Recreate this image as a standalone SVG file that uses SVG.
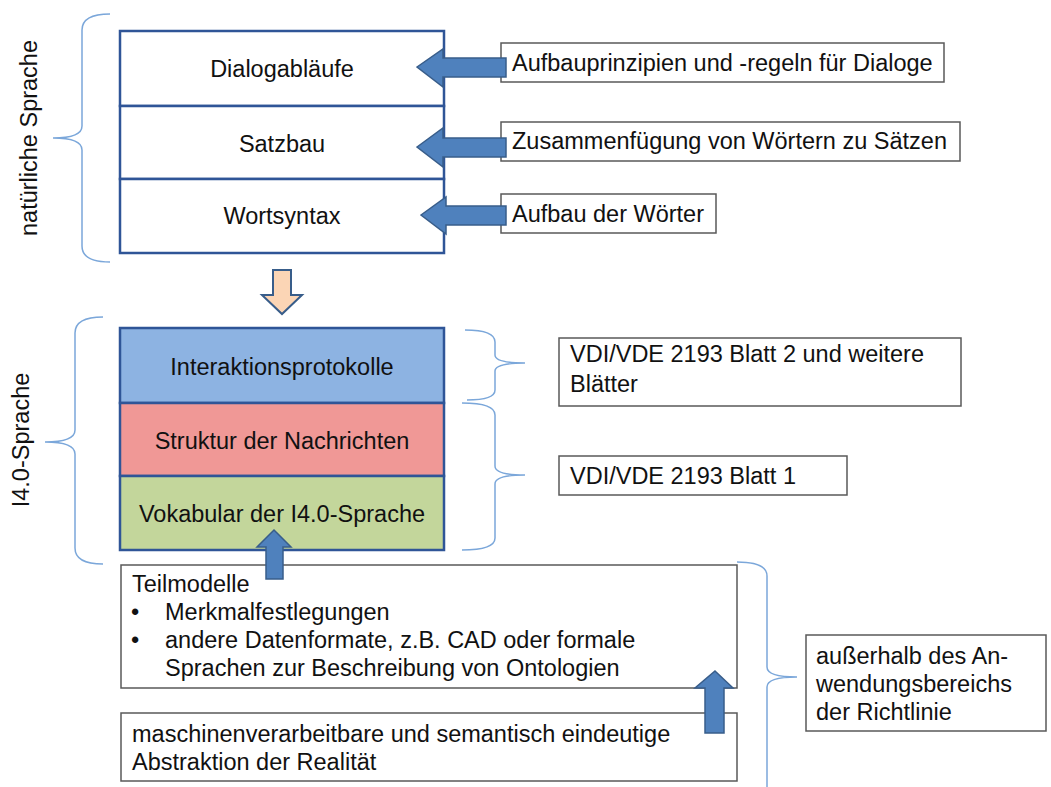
<svg xmlns="http://www.w3.org/2000/svg" width="1051" height="787" viewBox="0 0 1051 787">
<defs>
<style>
text{font-family:"Liberation Sans",Arial,sans-serif;font-size:23.5px;fill:#111}
.c{text-anchor:middle}
.layer{stroke:#2F5597;stroke-width:2.5}
.box{fill:#fff;stroke:#595959;stroke-width:1.5}
.brace{fill:none;stroke:#7BA7DA;stroke-width:1.5}
.arr{fill:#4F81BD;stroke:#385D8A;stroke-width:1.5}
.arr2{fill:#FBD5B5;stroke:#385D8A;stroke-width:2}
</style>
</defs>
<rect width="1051" height="787" fill="#fff"/>

<!-- braces -->
<g id="braces">
<path class="brace" d="M110,14 Q82,14 82,30 L82,126 Q82,138 53,138 Q82,138 82,150 L82,246 Q82,262 110,262"/>
<path class="brace" d="M103,317 Q75,317 75,333 L75,430 Q75,442 45,442 Q75,442 75,454 L75,548 Q75,564 103,564"/>
<path class="brace" d="M465,330 Q495,330 495,342 L495,355 Q495,363 525,363 Q495,363 495,371 L495,390 Q495,400 467,400"/>
<path class="brace" d="M462,403 Q495,403 495,415 L495,466 Q495,475 525,475 Q495,475 495,484 L495,538 Q495,550 462,550"/>
<path class="brace" d="M737,562 Q767,562 767,576 L767,667 Q767,677 797,677 Q767,677 767,687 L767,790"/>
</g>

<text class="c" transform="translate(37,138) rotate(-90)">natürliche Sprache</text>
<text class="c" transform="translate(29,440) rotate(-90)">I4.0-Sprache</text>

<!-- top stack -->
<g id="natural-stack">
<g id="dialogablaeufe"><rect class="layer" x="120" y="31" width="324" height="75" fill="#fff"/><text class="c" x="282" y="77">Dialogabläufe</text></g>
<g id="satzbau"><rect class="layer" x="120" y="106" width="324" height="73" fill="#fff"/><text class="c" x="282" y="152">Satzbau</text></g>
<g id="wortsyntax"><rect class="layer" x="120" y="179" width="324" height="74" fill="#fff"/><text class="c" x="282" y="224">Wortsyntax</text></g>
</g>

<!-- I4.0 stack -->
<g id="i40-stack">
<g id="interaktionsprotokolle"><rect class="layer" x="120" y="328" width="324" height="75" fill="#8DB3E2"/><text class="c" x="282" y="375">Interaktionsprotokolle</text></g>
<g id="struktur"><rect class="layer" x="120" y="403" width="324" height="73" fill="#F09896"/><text class="c" x="282" y="449">Struktur der Nachrichten</text></g>
<g id="vokabular"><rect class="layer" x="120" y="476" width="324" height="74" fill="#C3D69B"/><text class="c" x="282" y="522">Vokabular der I4.0-Sprache</text></g>
</g>

<!-- right boxes -->
<g id="aufbauprinzipien"><rect class="box" x="501" y="43" width="443" height="39"/><text x="512" y="71">Aufbauprinzipien und -regeln für Dialoge</text></g>
<g id="zusammenfuegung"><rect class="box" x="501" y="122" width="459" height="39"/><text x="512" y="149">Zusammenfügung von Wörtern zu Sätzen</text></g>
<g id="aufbau-woerter"><rect class="box" x="501" y="194" width="215" height="39"/><text x="512" y="222">Aufbau der Wörter</text></g>

<g id="vdi-blatt2"><rect class="box" x="559" y="338" width="402" height="68"/><text x="570" y="362">VDI/VDE 2193 Blatt 2 und weitere</text><text x="570" y="392">Blätter</text></g>
<g id="vdi-blatt1"><rect class="box" x="559" y="456" width="288" height="39"/><text x="570" y="484">VDI/VDE 2193 Blatt 1</text></g>

<g id="teilmodelle"><rect class="box" x="121" y="565" width="616" height="123"/>
<text x="132" y="592">Teilmodelle</text>
<text x="131" y="620">•</text><text x="165" y="620">Merkmalfestlegungen</text>
<text x="131" y="648">•</text><text x="165" y="648">andere Datenformate, z.B. CAD oder formale</text>
<text x="165" y="676">Sprachen zur Beschreibung von Ontologien</text>
</g>
<g id="abstraktion"><rect class="box" x="121" y="713" width="616" height="68"/>
<text x="132" y="742">maschinenverarbeitbare und semantisch eindeutige</text>
<text x="132" y="770">Abstraktion der Realität</text>
</g>
<g id="ausserhalb"><rect class="box" x="806" y="635" width="240" height="96"/>
<text x="816" y="664">außerhalb des An-</text>
<text x="816" y="692">wendungsbereichs</text>
<text x="816" y="720">der Richtlinie</text>
</g>

<!-- connectors -->
<g id="connectors">
<polygon class="arr" points="417,67 443,49 443,58 506,58 506,77 443,77 443,87"/>
<polygon class="arr" points="417,147 443,128 443,138 506,138 506,157 443,157 443,167"/>
<polygon class="arr" points="421,215 446,197 446,206 506,206 506,225 446,225 446,234"/>
<polygon class="arr2" points="273,270 291,270 291,295 302,295 282,314 262,295 273,295"/>
<polygon class="arr" points="274,530 291,547 283,547 283,579 266,579 266,547 257,547"/>
<polygon class="arr" points="715,671 733,688 724,688 724,733 705,733 705,688 695,688"/>
</g>
</svg>
